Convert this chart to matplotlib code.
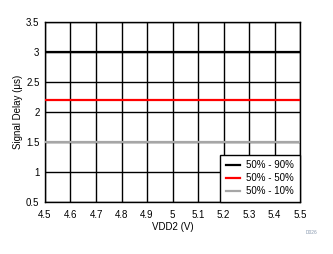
import matplotlib
matplotlib.use("Agg")
import matplotlib.pyplot as plt

plt.rcParams['font.family'] = ['Liberation Sans', 'DejaVu Sans']

vdd2 = [4.5, 4.6, 4.7, 4.8, 4.9, 5.0, 5.1, 5.2, 5.3, 5.4, 5.5]
delay_90 = [3.0, 3.0, 3.0, 3.0, 3.0, 3.0, 3.0, 3.0, 3.0, 3.0, 3.0]
delay_50 = [2.2, 2.2, 2.2, 2.2, 2.2, 2.2, 2.2, 2.2, 2.2, 2.2, 2.2]
delay_10 = [1.5, 1.5, 1.5, 1.5, 1.5, 1.5, 1.5, 1.5, 1.5, 1.5, 1.5]
xticks = [4.5, 4.6, 4.7, 4.8, 4.9, 5.0, 5.1, 5.2, 5.3, 5.4, 5.5]
xticklabels = ["4.5", "4.6", "4.7", "4.8", "4.9", "5", "5.1", "5.2", "5.3", "5.4", "5.5"]
yticks = [0.5, 1, 1.5, 2, 2.5, 3, 3.5]
yticklabels = ["0.5", "1", "1.5", "2", "2.5", "3", "3.5"]

fig = plt.figure(figsize=(3.33, 2.54), dpi=100)
ax = fig.add_axes([45/333, 1 - 202/254, 255/333, 180/254])

ax.plot(vdd2, delay_90, color="black", lw=1.6, label="50% - 90%", zorder=3)
ax.plot(vdd2, delay_50, color="#ff0000", lw=1.6, label="50% - 50%", zorder=3)
ax.plot(vdd2, delay_10, color="#a6a6a6", lw=1.6, label="50% - 10%", zorder=3)

ax.set_xlim(4.5, 5.5)
ax.set_ylim(0.5, 3.5)
ax.set_xticks(xticks)
ax.set_xticklabels(xticklabels)
ax.set_yticks(yticks)
ax.set_yticklabels(yticklabels)
ax.grid(True, color="black", lw=1.0)
ax.tick_params(length=0, labelsize=7)
ax.tick_params(axis="x", pad=6)
ax.tick_params(axis="y", pad=4)
for s in ax.spines.values():
    s.set_linewidth(1.0)

ax.set_xlabel("VDD2 (V)", fontsize=7, labelpad=1)
ax.set_ylabel("Signal Delay (\u03bcs)", fontsize=7, labelpad=2)

leg = ax.legend(loc="lower right", fontsize=7, fancybox=False, framealpha=1,
                edgecolor="black", borderaxespad=0, handlelength=1.5,
                handletextpad=0.6, labelspacing=0.3, borderpad=0.6)
leg.get_frame().set_linewidth(1.0)

fig.text(312/333, 1 - 233/254, "D026", fontsize=3.5, color="#8a9ab0",
         ha="center", va="center")

fig.savefig("out.png", dpi=100)
